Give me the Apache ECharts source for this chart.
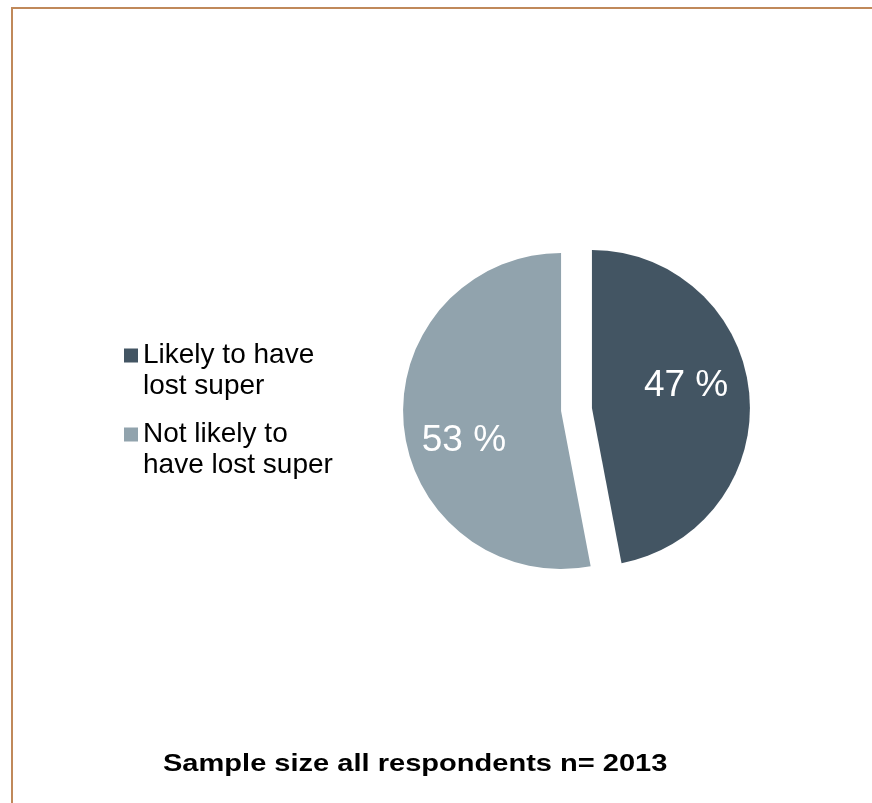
<!DOCTYPE html>
<html>
<head>
<meta charset="utf-8">
<script src="https://cdn.jsdelivr.net/npm/echarts@6/dist/echarts.min.js"></script>
<style>
  html, body { margin: 0; padding: 0; background: #fff; }
  #chart { width: 872px; height: 803px; }
</style>
</head>
<body>
<div id="chart"></div>
<script>
// Survey split: likelihood of having lost super
const categories = ['Likely to have\nlost super', 'Not likely to\nhave lost super'];
const shares = [47, 53];
const sliceColors = ['#435563', '#91a3ad'];
const footnote = 'Sample size all respondents n= 2013';

// label nudges, px, per slice
const labelOffsets = [[12.5, -15], [-15.5, 22]];

const chart = echarts.init(document.getElementById('chart'), null, { renderer: 'canvas' });

const FONT = '"Liberation Sans", Arial, Helvetica, sans-serif';

chart.setOption({
  animation: false,
  backgroundColor: '#ffffff',
  legend: {
    orient: 'vertical',
    left: 124,
    top: 309,
    padding: 0,
    itemGap: -14,
    itemWidth: 14,
    itemHeight: 14,
    itemStyle: { borderWidth: 0 },
    icon: 'rect',
    selectedMode: false,
    data: categories,
    // leading blank line keeps the swatch level with the first text line
    formatter: name => '\n' + name,
    textStyle: {
      fontFamily: FONT,
      fontSize: 28,
      lineHeight: 31,
      color: '#000'
    }
  },
  graphic: [
    { type: 'line', shape: { x1: 12, y1: 8, x2: 872, y2: 8 }, style: { stroke: '#c0895a', lineWidth: 2 } },
    { type: 'line', shape: { x1: 12, y1: 7, x2: 12, y2: 803 }, style: { stroke: '#c0895a', lineWidth: 2 } },
    {
      type: 'text',
      x: 163,
      y: 752,
      scaleX: 1.21,
      style: {
        text: footnote,
        fontFamily: FONT,
        fontSize: 24,
        fontWeight: 'bold',
        fill: '#000',
        verticalAlign: 'top'
      }
    }
  ],
  series: [{
    type: 'pie',
    center: [576.5, 409.5],
    radius: 158,
    startAngle: 90,
    clockwise: true,
    selectedMode: 'multiple',
    selectedOffset: 15.5,
    emphasis: { disabled: true },
    label: {
      show: true,
      position: 'inside',
      formatter: '{c} %',
      color: '#ffffff',
      fontFamily: FONT,
      fontSize: 37
    },
    labelLine: { show: false },
    labelLayout: params => ({
      dx: labelOffsets[params.dataIndex][0],
      dy: labelOffsets[params.dataIndex][1]
    }),
    data: categories.map((name, i) => ({
      name,
      value: shares[i],
      selected: true,
      itemStyle: { color: sliceColors[i] }
    }))
  }]
});
</script>
</body>
</html>
